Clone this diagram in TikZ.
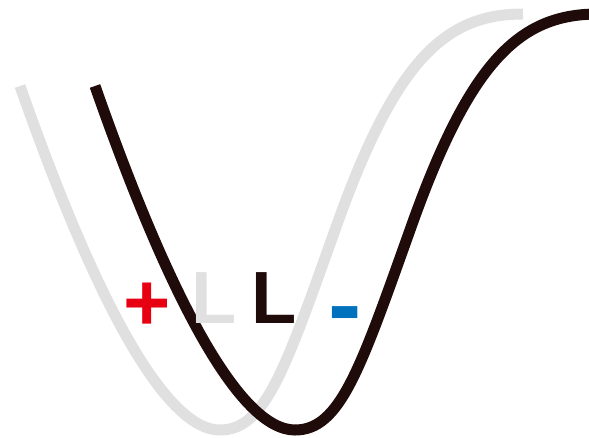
\documentclass[tikz,border=0pt]{standalone}
\usepackage{fontspec}
\setmainfont{Liberation Sans}
\definecolor{shiftgray}{HTML}{E0E0E0}
\definecolor{curveblack}{HTML}{1E0B0A}
\definecolor{plusred}{HTML}{E60012}
\definecolor{minusblue}{HTML}{0071BC}

\begin{document}
\begin{tikzpicture}[x=1pt,y=-1pt,line width=11pt,
  wave/.style={line cap=butt},
  letter/.style={inner sep=0pt,anchor=base,font=\bfseries\fontsize{74}{74}\selectfont}]
\useasboundingbox (0,0) rectangle (589,437);
\begin{scope}
\clip (0,0) rectangle (589,437);
% ---------- shifted curve (gray, behind) ----------
\draw[wave,shiftgray] (20,86) .. controls (95,300) and (165,430) .. (220,430)
      .. controls (265,430) and (285,370) .. (335,230)
      .. controls (395,60) and (445,14) .. (523,14);
% ---------- curve (black) ----------
\draw[wave,curveblack] (95,86) .. controls (170,300) and (240,430) .. (295,430)
      .. controls (340,430) and (360,370) .. (410,230)
      .. controls (470,60) and (520,14) .. (598,14);
\end{scope}
% ---------- labels ----------
\node[letter,plusred,font=\bfseries\fontsize{81}{81}\selectfont] (plus) at (147,330) {+};
\node[letter,shiftgray] (Lgray) at (214,323) {L};
\node[letter,curveblack] (Lblack) at (274,323) {L};
\node[letter,minusblue,font=\bfseries\fontsize{100}{100}\selectfont] (minus) at (345.5,338) {-};
\end{tikzpicture}
\end{document}
